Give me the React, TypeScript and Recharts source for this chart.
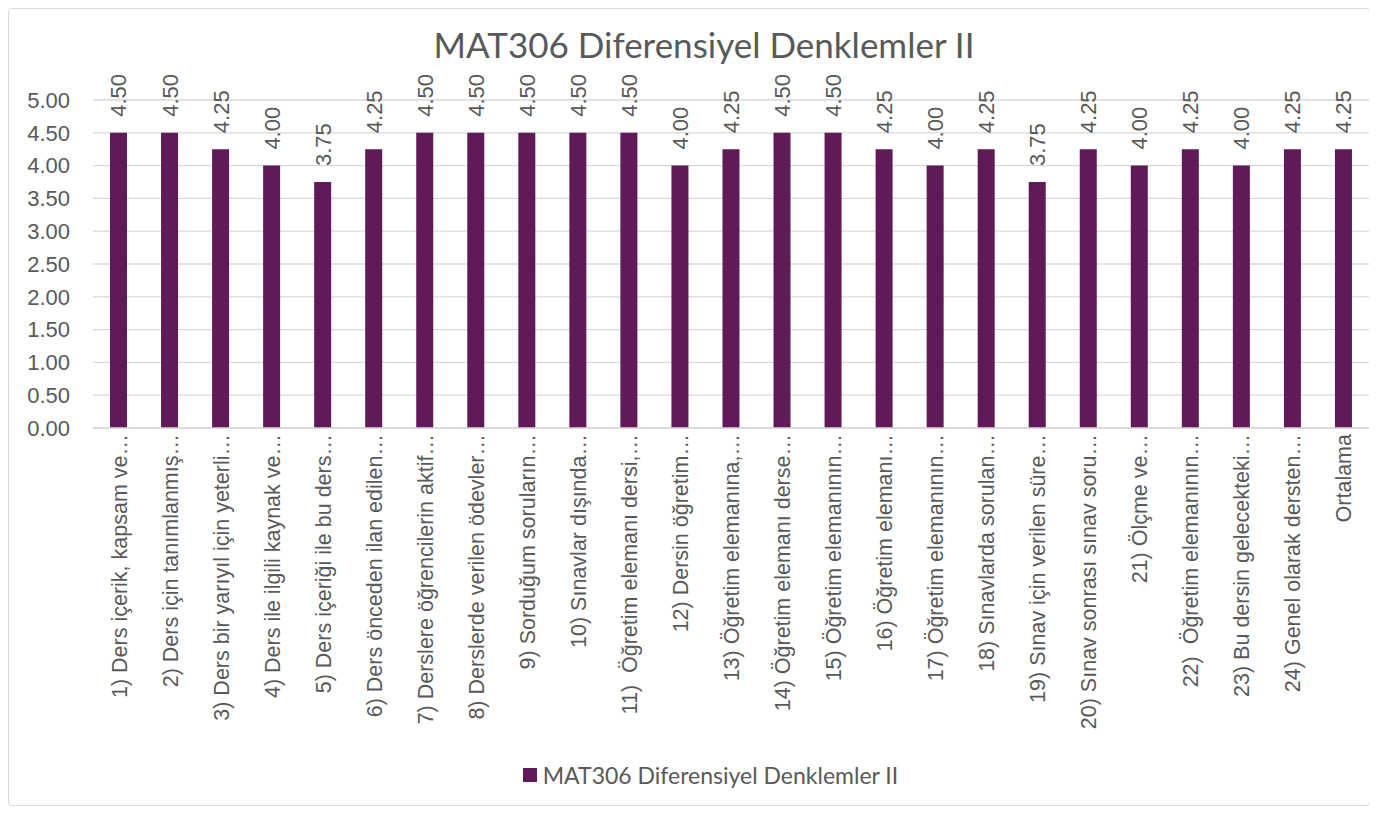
import React from "react";
import { BarChart, Bar, XAxis, YAxis, CartesianGrid, Legend, LabelList } from "recharts";

const categories: string[] = [
  "1) Ders içerik, kapsam ve…",
  "2) Ders için tanımlanmış…",
  "3) Ders bir yarıyıl için yeterli…",
  "4) Ders ile ilgili kaynak ve…",
  "5) Ders içeriği ile bu ders…",
  "6) Ders önceden ilan edilen…",
  "7) Derslere öğrencilerin aktif…",
  "8) Derslerde verilen ödevler…",
  "9) Sorduğum soruların…",
  "10) Sınavlar dışında…",
  "11)  Öğretim elemanı dersi,…",
  "12) Dersin öğretim…",
  "13) Öğretim elemanına,…",
  "14) Öğretim elemanı derse…",
  "15) Öğretim elemanının…",
  "16) Öğretim elemanı…",
  "17) Öğretim elemanının…",
  "18) Sınavlarda sorulan…",
  "19) Sınav için verilen süre…",
  "20) Sınav sonrası sınav soru…",
  "21) Ölçme ve…",
  "22)  Öğretim elemanının…",
  "23) Bu dersin gelecekteki…",
  "24) Genel olarak dersten…",
  "Ortalama",
];

const values: number[] = [
  4.5, 4.5, 4.25, 4.0, 3.75, 4.25, 4.5, 4.5, 4.5, 4.5, 4.5, 4.0, 4.25, 4.5, 4.5, 4.25, 4.0,
  4.25, 3.75, 4.25, 4.0, 4.25, 4.0, 4.25, 4.25,
];

const yTicks: number[] = [0, 0.5, 1, 1.5, 2, 2.5, 3, 3.5, 4, 4.5, 5];

const seriesName = "MAT306 Diferensiyel Denklemler II";
const titleText = "MAT306 Diferensiyel Denklemler II";

const data = categories.map((c, i) => ({ name: c, value: values[i] }));

const BAR_COLOR = "#601A57";
const TEXT_COLOR = "#595959";
const AXIS_FONT = "'Liberation Sans', Arial, sans-serif";
const TITLE_FONT = "Lato, 'Noto Sans', sans-serif";

const CategoryTick = (props: any) => {
  const { x, y, payload } = props;
  const tx = x + 8;
  const ty = y - 2;
  return (
    <text
      x={tx}
      y={ty}
      transform={`rotate(-90, ${tx}, ${ty})`}
      textAnchor="end"
      fontFamily={AXIS_FONT}
      fontSize={21.5}
      fill={TEXT_COLOR}
      style={{ whiteSpace: "pre" }}
    >
      {payload.value}
    </text>
  );
};

const ValueLabel = (props: any) => {
  const { x, y, width, value } = props;
  const tx = x + width / 2 + 8;
  const ty = y - 16;
  return (
    <text
      x={tx}
      y={ty}
      transform={`rotate(-90, ${tx}, ${ty})`}
      textAnchor="start"
      fontFamily={AXIS_FONT}
      fontSize={22}
      fill={TEXT_COLOR}
    >
      {Number(value).toFixed(2)}
    </text>
  );
};

const LegendContent = () => (
  <div
    style={{
      height: 60,
      display: "flex",
      alignItems: "center",
      justifyContent: "center",
      fontFamily: TITLE_FONT,
      fontSize: 23,
      color: TEXT_COLOR,
      paddingLeft: 43,
      boxSizing: "border-box",
    }}
  >
    <span
      style={{
        display: "inline-block",
        width: 14,
        height: 14,
        background: BAR_COLOR,
        marginRight: 6,
      }}
    />
    <span>{seriesName}</span>
  </div>
);

export default function App() {
  return (
    <div
      style={{
        position: "relative",
        width: 1362,
        height: 798,
        border: "1px solid #d9d9d9",
        borderRadius: 4,
        boxSizing: "border-box",
        background: "#fff",
      }}
    >
      <div
        style={{
          position: "absolute",
          top: 13,
          left: 0,
          width: 1390,
          textAlign: "center",
          fontFamily: TITLE_FONT,
          fontSize: 35,
          color: TEXT_COLOR,
          lineHeight: "44px",
        }}
      >
        {titleText}
      </div>
      <BarChart
        width={1360}
        height={796}
        data={data}
        margin={{ top: 91, right: 0, bottom: 0, left: 0 }}
        barSize={17}
      >
        <CartesianGrid vertical={false} stroke="#d9d9d9" strokeWidth={1.3} />
        <XAxis
          dataKey="name"
          interval={0}
          height={317}
          tick={<CategoryTick />}
          tickLine={false}
          axisLine={{ stroke: "#d9d9d9", strokeWidth: 1.3 }}
        />
        <YAxis
          width={84}
          domain={[0, 5]}
          ticks={yTicks}
          interval={0}
          tickFormatter={(v: number) => v.toFixed(2)}
          tickLine={false}
          axisLine={false}
          tickSize={0}
          tickMargin={23}
          tick={{ fontFamily: AXIS_FONT, fontSize: 22, fill: TEXT_COLOR }}
        />
        <Legend verticalAlign="bottom" content={<LegendContent />} />
        <Bar dataKey="value" name={seriesName} fill={BAR_COLOR} isAnimationActive={false}>
          <LabelList dataKey="value" content={<ValueLabel />} />
        </Bar>
      </BarChart>
    </div>
  );
}
